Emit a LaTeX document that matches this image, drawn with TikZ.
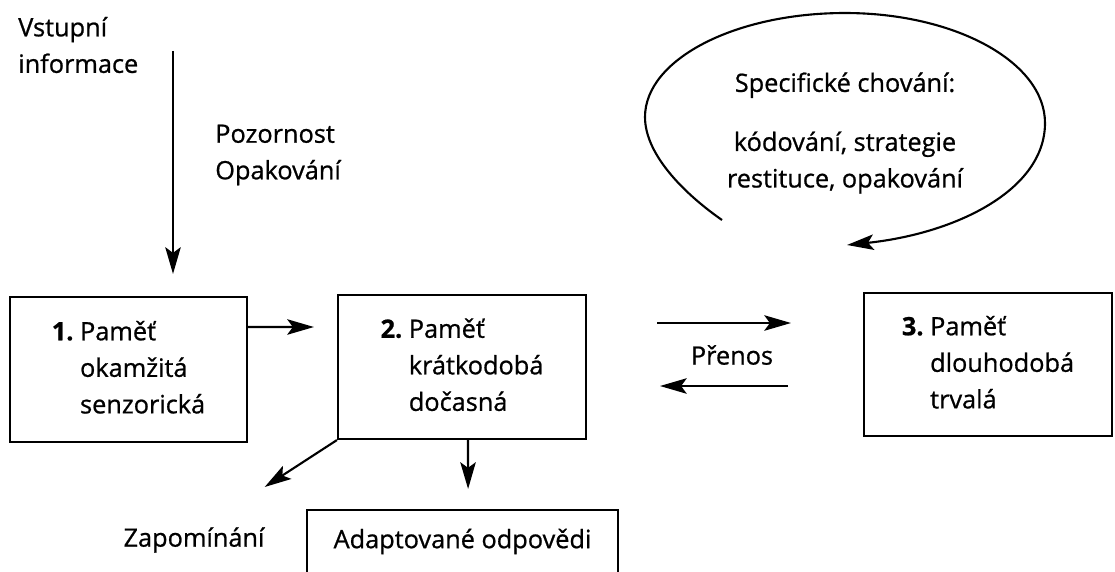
\documentclass[tikz,border=0pt]{standalone}
\usepackage{fontspec}
\setmainfont{Open Sans}[FakeBold=0.8]
\usepackage{tikz}
\usetikzlibrary{arrows.meta,positioning}

\tikzset{
  box/.style={draw, line width=1.5pt, inner sep=0pt},
  arr/.style={line width=1.5pt, -{Stealth[length=19pt,width=11pt,inset=4pt]}},
  txt/.style={inner sep=0pt, align=left},
}

\begin{document}
\begin{tikzpicture}[font=\fontsize{18pt}{26pt}\selectfont]
            \useasboundingbox (0,0) rectangle (27.875,-14.275);
            % paměti
            \node[box, minimum width=5.925cm, minimum height=3.625cm] (mem1) at (3.2125,-9.2375)
                {\begin{tabular}{@{}l@{\ }l@{}}\textbf{1.} & Paměť\\ & okamžitá\\ & senzorická\end{tabular}};
            \node[box, minimum width=6.2cm, minimum height=3.6cm] (mem2) at (11.55,-9.175)
                {\begin{tabular}{@{}l@{\ }l@{}}\textbf{2.} & Paměť\\ & krátkodobá\\ & dočasná\end{tabular}};
            \node[box, minimum width=6.2cm, minimum height=3.575cm] (mem3) at (24.7,-9.1125)
                {\begin{tabular}{@{}l@{\ }l@{}}\textbf{3.} & Paměť\\ & dlouhodobá\\ & trvalá\end{tabular}};
            \node[box, minimum width=7.775cm, minimum height=1.575cm] (resp) at (11.5625,-13.5375) {Adaptované odpovědi};
            % popisky
            \node[txt, anchor=west] (input) at (0.45,-1.125) {Vstupní\\informace};
            \node[txt, anchor=west] (attn) at (5.375,-3.875) {Pozornost\\Opakování};
            \node[txt] (zap) at (4.85,-13.5) {Zapomínání};
            \node[txt] (prenos) at (18.3,-8.875) {Přenos};
            \node[txt, align=center] (behav) at (21.125,-3.325) {Specifické chování:\\[16pt]kódování, strategie\\restituce, opakování};
            % šipky
            \draw[arr] ([shift={(1.1125,6.125)}]mem1.north) -- ([shift={(1.1125,0.55)}]mem1.north);
            \draw[arr] ([yshift=1.0625cm]mem1.east) -- ([shift={(-0.575,1)}]mem2.west);
            \draw[arr] (mem2.south west) -- ([yshift=1cm]zap.north east);
            \draw[arr] ([xshift=0.15cm]mem2.south) -- ([shift={(0.14,0.5)}]resp.north);
            \draw[arr] ([shift={(-1.875,0.8)}]prenos.center) -- ([shift={(1.475,0.8)}]prenos.center);
            \draw[arr] ([shift={(1.4,-0.775)}]prenos.center) -- ([shift={(-1.8,-0.775)}]prenos.center);
            % smyčka
            \draw[arr] (18.05,-5.5) .. controls (17.23,-4.93) and (16.125,-3.925) .. (16.125,-2.925)
                .. controls (16.125,-1.49) and (18.365,-0.325) .. (21.125,-0.325)
                .. controls (23.885,-0.325) and (26.125,-1.555) .. (26.125,-3.075)
                .. controls (26.125,-4.755) and (23.89,-5.84) .. (21.175,-6.125);
        \end{tikzpicture}
\end{document}
